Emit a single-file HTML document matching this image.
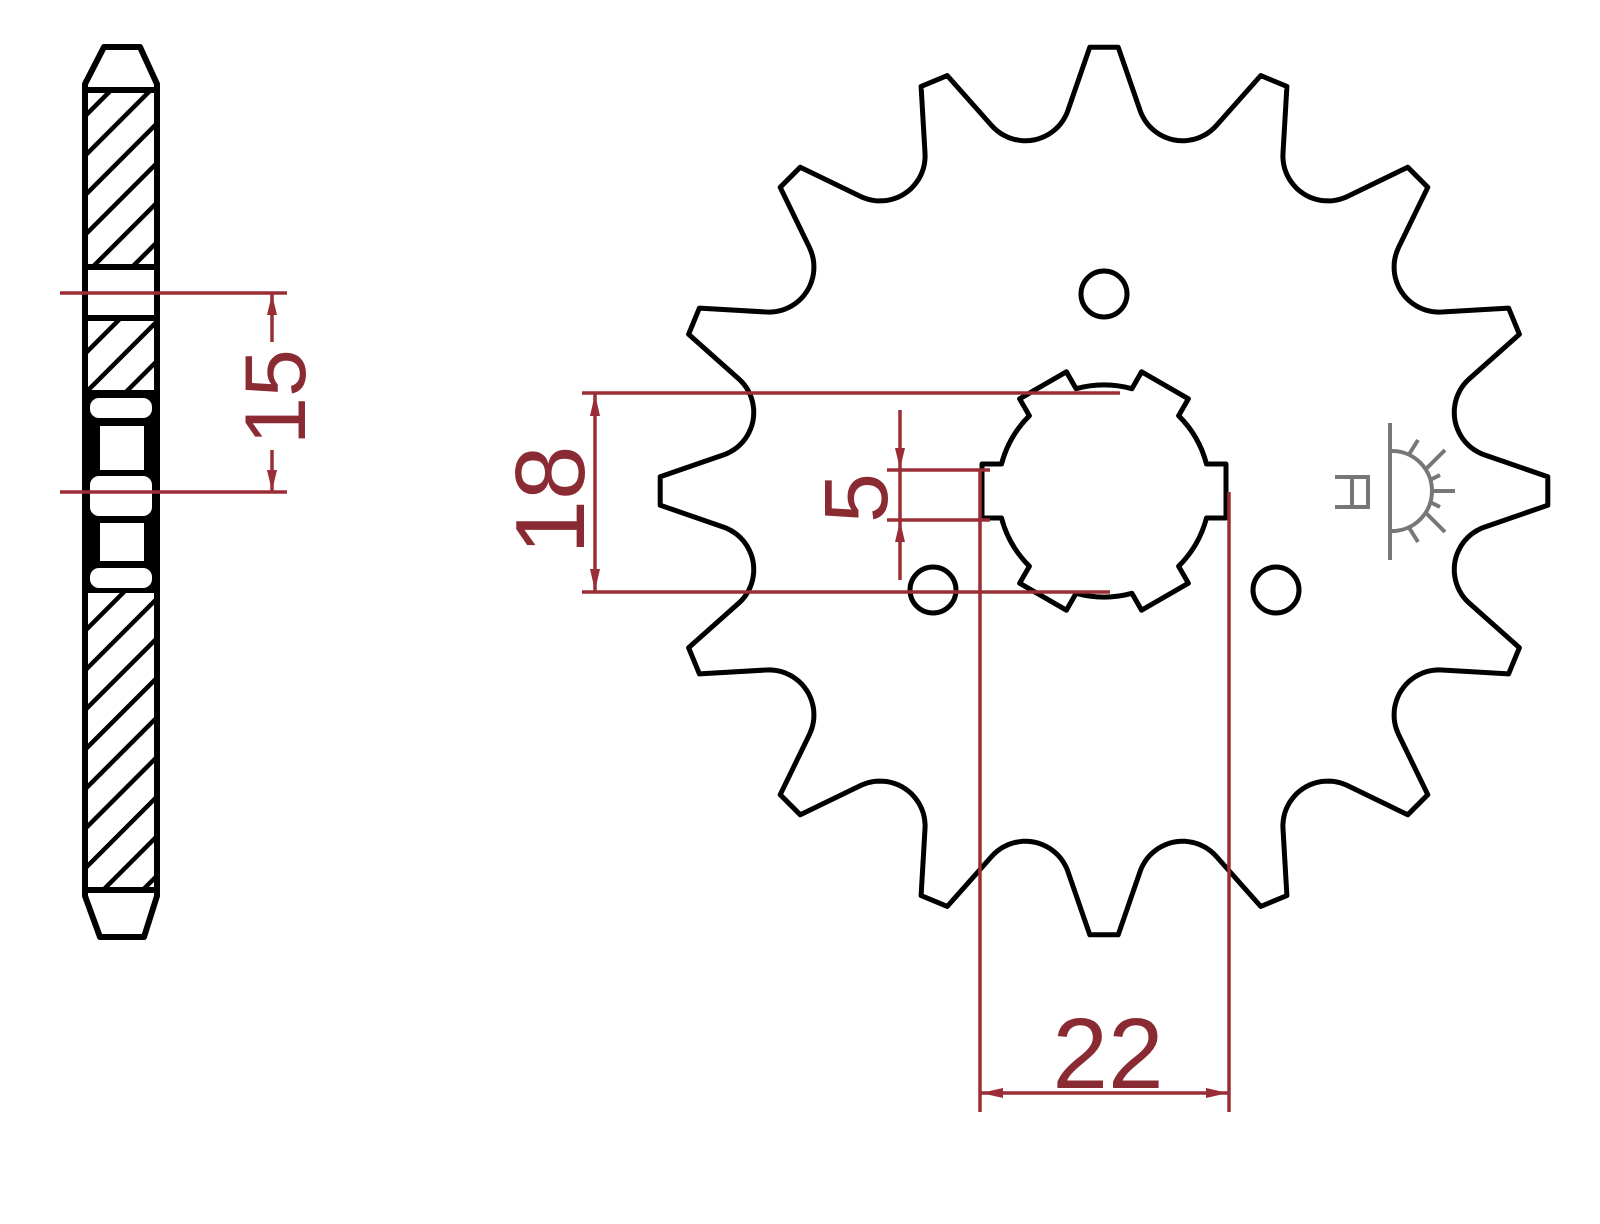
<!DOCTYPE html>
<html><head><meta charset="utf-8"><style>
html,body{margin:0;padding:0;background:#fff;}
svg{display:block;}
.t{font-family:"Liberation Sans",sans-serif;fill:#8a2b33;}
</style></head><body>
<svg id="s" width="1600" height="1224" viewBox="0 0 1600 1224" xmlns="http://www.w3.org/2000/svg">
<defs>
<pattern id="h" patternUnits="userSpaceOnUse" width="28" height="28" patternTransform="rotate(-45 0 0)">
<rect width="28" height="28" fill="#fff"/>
<rect x="0" y="0" width="28" height="4.5" fill="#000"/>
</pattern>
</defs>
<rect width="1600" height="1224" fill="#fff"/>

<!-- side view -->
<g stroke="#000" stroke-width="6" stroke-linejoin="round">
<rect x="85" y="318" width="72" height="75" fill="url(#h)"/>
<rect x="85" y="90" width="72" height="177" fill="url(#h)"/>
<rect x="85" y="590" width="72" height="300" fill="url(#h)"/>
<path d="M104 47 L140 47 L157 84 L157 90 L85 90 L85 84 Z" fill="#fff"/>
<path d="M85 890 L157 890 L157 896 L144 937 L100 937 L85 896 Z" fill="#fff"/>
<rect x="85" y="267" width="72" height="51" fill="#fff"/>
<rect x="85" y="393" width="72" height="197" fill="#000"/>
</g>
<g fill="#fff">
<rect x="90" y="398" width="62" height="20" rx="9"/>
<rect x="100" y="426" width="44" height="44"/>
<rect x="90" y="476" width="62" height="40" rx="9"/>
<rect x="100" y="523" width="44" height="38"/>
<rect x="90" y="568" width="62" height="20" rx="9"/>
</g>

<!-- 15 dimension -->
<g stroke="#9b2d36" stroke-width="3.5" fill="none">
<line x1="60" y1="293" x2="287" y2="293"/>
<line x1="60" y1="492" x2="287" y2="492"/>
<line x1="272" y1="293" x2="272" y2="342"/>
<line x1="272" y1="450" x2="272" y2="492"/>
</g>
<g fill="#9b2d36">
<path d="M272 294 L267 315 L277 315 Z"/>
<path d="M272 491 L267 470 L277 470 Z"/>
</g>
<text class="t" x="0" y="0" font-size="86" text-anchor="middle" transform="translate(305 397) rotate(-90)">15</text>

<!-- sprocket -->
<path id="spr" fill="none" stroke="#000" stroke-width="5" stroke-linejoin="round"/>
<path id="hub" fill="none" stroke="#000" stroke-width="5" stroke-linejoin="round"/>
<g fill="none" stroke="#000" stroke-width="5">
<circle cx="1104" cy="294" r="23"/>
<circle cx="933" cy="590" r="23"/>
<circle cx="1276" cy="590" r="23"/>
</g>

<!-- red dims -->
<g stroke="#9b2d36" stroke-width="3.5" fill="none">
<line x1="582" y1="393" x2="1120" y2="393"/>
<line x1="582" y1="592" x2="1110" y2="592"/>
<line x1="595" y1="393" x2="595" y2="592"/>
<line x1="900" y1="410" x2="900" y2="580"/>
<line x1="887" y1="470" x2="990" y2="470"/>
<line x1="887" y1="520" x2="990" y2="520"/>
<line x1="980" y1="470" x2="980" y2="1112"/>
<line x1="1229" y1="492" x2="1229" y2="1112"/>
<line x1="980" y1="1093" x2="1229" y2="1093"/>
</g>
<g fill="#9b2d36">
<path d="M595 394 L590 416 L600 416 Z"/>
<path d="M595 591 L590 569 L600 569 Z"/>
<path d="M900 469 L895 448 L905 448 Z"/>
<path d="M900 521 L895 542 L905 542 Z"/>
<path d="M981 1093 L1003 1088 L1003 1098 Z"/>
<path d="M1228 1093 L1206 1088 L1206 1098 Z"/>
</g>
<text class="t" font-size="98" text-anchor="middle" transform="translate(584 500) rotate(-90)">18</text>
<text class="t" font-size="90" text-anchor="middle" transform="translate(887 498) rotate(-90)">5</text>
<text class="t" font-size="100" text-anchor="middle" x="1108" y="1088">22</text>

<!-- symbol -->
<g stroke="#777" stroke-width="4" fill="none">
<line x1="1390" y1="423" x2="1390" y2="560"/>
<path d="M1392 451 A40 40 0 0 1 1392 531"/>
<line x1="1432" y1="491" x2="1455" y2="491"/>
<line x1="1425" y1="470" x2="1445" y2="450"/>
<line x1="1425" y1="512" x2="1445" y2="532"/>
<line x1="1408" y1="456" x2="1418" y2="440"/>
<line x1="1408" y1="526" x2="1418" y2="542"/>
<line x1="1430" y1="480" x2="1440" y2="475"/>
<line x1="1430" y1="502" x2="1440" y2="507"/>
<path d="M1335 477 L1370 477 M1335 507 L1370 507 M1368 475 L1368 509 M1352 477 L1352 507"/>
</g>
</svg>
<script>
(function(){
var cx=1104,cy=491,R=444,h=0.032,Rs=403,rho=45,N=16,step=2*Math.PI/N;
function pt(r,th){return [cx+r*Math.sin(th),cy-r*Math.cos(th)];}
function polar(p){return Math.atan2(p[0]-cx,-(p[1]-cy));}
function nrm(a){while(a>Math.PI)a-=2*Math.PI;while(a<=-Math.PI)a+=2*Math.PI;return a;}
function tang(P,S,va,wantNeg){
 var dx=P[0]-S[0],dy=P[1]-S[1],D=Math.hypot(dx,dy),b=Math.acos(rho/D),f=Math.atan2(dy,dx);
 var c=[[S[0]+rho*Math.cos(f+b),S[1]+rho*Math.sin(f+b)],[S[0]+rho*Math.cos(f-b),S[1]+rho*Math.sin(f-b)]];
 var d0=nrm(polar(c[0])-va),d1=nrm(polar(c[1])-va);
 if(wantNeg) return d0<d1?c[0]:c[1]; else return d0>d1?c[0]:c[1];
}
var d="";
for(var i=0;i<N;i++){
 var th=i*step,A=pt(R,th-h),B=pt(R,th+h);
 d+=(i==0?"M":"L")+A[0].toFixed(1)+" "+A[1].toFixed(1)+" L"+B[0].toFixed(1)+" "+B[1].toFixed(1);
 var va=th+step/2,S=pt(Rs,va),A2=pt(R,th+step-h);
 var T1=tang(B,S,va,true),T2=tang(A2,S,va,false);
 var a1=Math.atan2(T1[1]-S[1],T1[0]-S[0]),a2=Math.atan2(T2[1]-S[1],T2[0]-S[0]),ai=Math.atan2(cy-S[1],cx-S[0]);
 var TP=2*Math.PI;
 var dd=((a2-a1)%TP+TP)%TP,di=((ai-a1)%TP+TP)%TP,sweep=(di<dd)?dd:-(TP-dd);
 for(var k=0;k<=24;k++){var a=a1+sweep*k/24;d+=" L"+(S[0]+rho*Math.cos(a)).toFixed(1)+" "+(S[1]+rho*Math.sin(a)).toFixed(1);}
}
d+="Z";
document.getElementById("spr").setAttribute("d",d);
var rb=106,ro=125,w=27,g=Math.asin(w/rb),al=Math.sqrt(ro*ro-w*w),hd="";
function bp(a){return [cx+rb*Math.cos(a),cy+rb*Math.sin(a)];}
for(var k=0;k<6;k++){
 var p=k*Math.PI/3,u=[Math.cos(p),Math.sin(p)],n=[-Math.sin(p),Math.cos(p)];
 var P1=bp(p-g),P2=[cx+al*u[0]-w*n[0],cy+al*u[1]-w*n[1]],P3=[cx+al*u[0]+w*n[0],cy+al*u[1]+w*n[1]],P4=bp(p+g),P5=bp(p+Math.PI/3-g);
 hd+=(k==0?"M"+P1[0].toFixed(1)+" "+P1[1].toFixed(1):"")+" L"+P2[0].toFixed(1)+" "+P2[1].toFixed(1)+" L"+P3[0].toFixed(1)+" "+P3[1].toFixed(1)+" L"+P4[0].toFixed(1)+" "+P4[1].toFixed(1)+" A"+rb+" "+rb+" 0 0 1 "+P5[0].toFixed(1)+" "+P5[1].toFixed(1);
}
hd+="Z";
document.getElementById("hub").setAttribute("d",hd);
})();
</script>
</body></html>
